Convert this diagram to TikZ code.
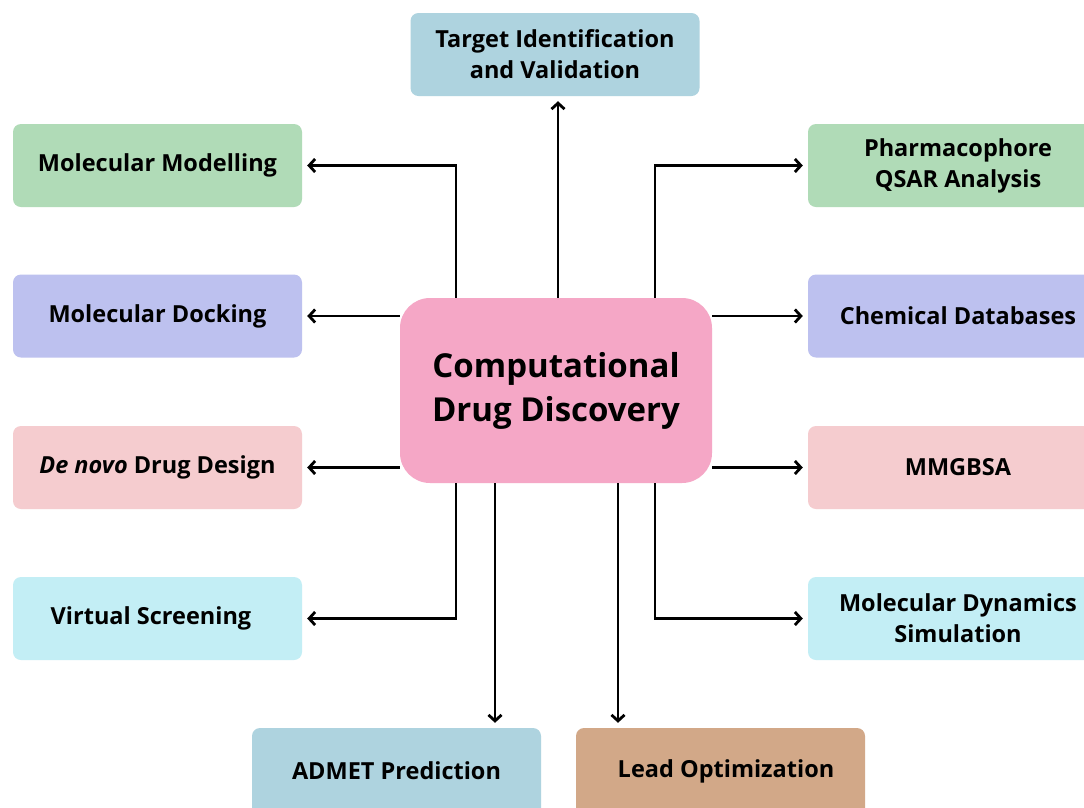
\documentclass[tikz,border=0pt]{standalone}
\usepackage{fontspec}
\setmainfont{Open Sans}
\usetikzlibrary{arrows.meta}
\definecolor{cblue}{HTML}{AED3DF}
\definecolor{cgreen}{HTML}{B0DBB7}
\definecolor{clav}{HTML}{BDC1EF}
\definecolor{cpink}{HTML}{F5CCCF}
\definecolor{ccyan}{HTML}{C3EEF5}
\definecolor{ctan}{HTML}{D2A888}
\definecolor{ccenter}{HTML}{F5A7C6}
\tikzset{
  lbl/.style={font=\fontsize{23.5}{31}\selectfont\bfseries, text=black},
  box/.style={lbl, rounded corners=8pt, minimum width=289pt, minimum height=83pt, align=center, inner sep=0pt},
  rbox/.style={box, minimum width=300pt},
  arr/.style={-{Straight Barb[length=6pt,width=13pt,line width=2.8pt]}, line width=2.8pt, black, shorten >=5pt},
}
\begin{document}
\begin{tikzpicture}[x=1pt,y=-1pt]
\useasboundingbox (0,0) rectangle (1084,807);
\clip (0,0) rectangle (1084,807);
\fill[white] (0,0) rectangle (1084,807);
% nodes
\node[box, fill=cblue] (tgt) at (555,54.5) {Target Identification\\and Validation};
\node[box, fill=cgreen] (mm) at (157.5,165.5) {Molecular Modelling};
\node[rbox, fill=cgreen] (ph) at (958,165.5) {Pharmacophore\\QSAR Analysis};
\node[box, fill=clav] (md) at (157.5,316) {Molecular Docking};
\node[rbox, fill=clav] (cdb) at (958,316) {Chemical Databases};
\node[box, fill=cpink] (dn) at (157.5,467.5) {\textit{De novo} Drug Design};
\node[rbox, fill=cpink] (mmg) at (958,467.5) {MMGBSA};
\node[box, fill=ccyan] (vs) at (157.5,618.5) {};
\node[lbl] (vst) at (151,618.5) {Virtual Screening};
\node[rbox, fill=ccyan] (mds) at (958,618.5) {Molecular Dynamics\\Simulation};
\node[box, fill=cblue, minimum height=90pt] (adm) at (396.5,773) {};
\node[lbl] (admt) at (396.5,771) {ADMET Prediction};
\node[box, fill=ctan, minimum height=90pt] (lead) at (720.5,773) {};
\node[lbl] (leadt) at (726,771) {Lead Optimization};
\node[rounded corners=30pt, fill=ccenter, minimum width=312pt, minimum height=185pt, align=center,
  font=\fontsize{33}{44}\selectfont\bfseries, text=black] (c) at (556,390.5) {Computational\\Drug Discovery};
% helper x positions
\coordinate (xa) at (456,0);
\coordinate (xb) at (655,0);
\coordinate (xc) at (495,0);
\coordinate (xd) at (618,0);
\coordinate (xt) at (558,0);
% connectors
\draw[arr] (c.north -| xt) -- (tgt.south -| xt);
\draw[arr] (c.north -| xa) |- (mm.east);
\draw[arr] (c.north -| xb) |- (ph.west);
\draw[arr] (c.west |- md.east) -- (md.east);
\draw[arr] (c.east |- cdb.west) -- (cdb.west);
\draw[arr] (c.west |- dn.east) -- (dn.east);
\draw[arr] (c.east |- mmg.west) -- (mmg.west);
\draw[arr] (c.south -| xa) |- (vs.east);
\draw[arr] (c.south -| xb) |- (mds.west);
\draw[arr] (c.south -| xc) -- (adm.north -| xc);
\draw[arr] (c.south -| xd) -- (lead.north -| xd);
\end{tikzpicture}
\end{document}
